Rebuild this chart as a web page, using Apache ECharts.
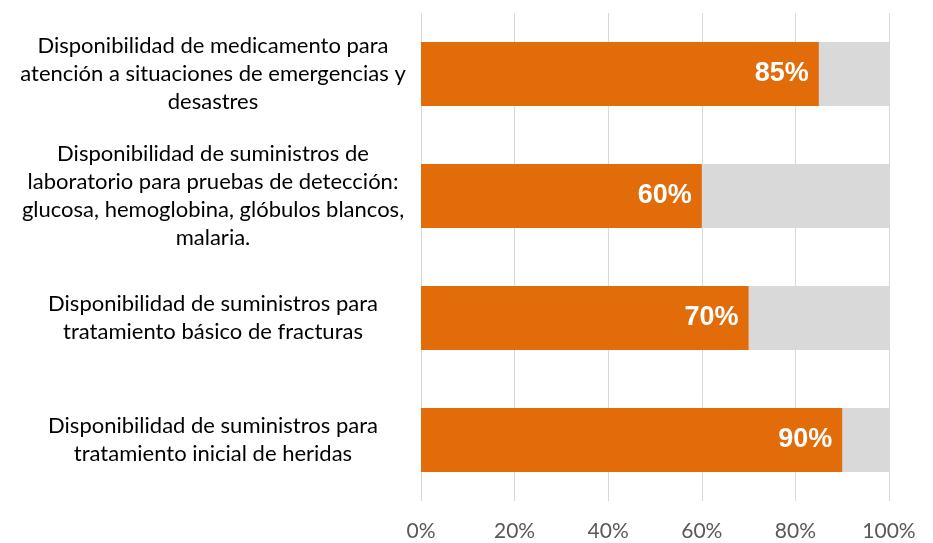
<!DOCTYPE html>
<html>
<head>
<meta charset="utf-8">
<script src="https://cdn.jsdelivr.net/npm/echarts@6/dist/echarts.min.js"></script>
<style>
  html, body { margin: 0; padding: 0; background: #fff; }
  #chart { width: 933px; height: 543px; }
</style>
</head>
<body>
<div id="chart"></div>
<script>
  // categorías (de arriba hacia abajo)
  var categories = [
    'Disponibilidad de medicamento para\natención a situaciones de emergencias y\ndesastres',
    'Disponibilidad de suministros de\nlaboratorio para pruebas de detección:\nglucosa, hemoglobina, glóbulos blancos,\nmalaria.',
    'Disponibilidad de suministros para\ntratamiento básico de fracturas',
    'Disponibilidad de suministros para\ntratamiento inicial de heridas'
  ];
  var values = [85, 60, 70, 90];
  var ticks = [0, 20, 40, 60, 80, 100];

  var chart = echarts.init(document.getElementById('chart'));

  var option = {
    animation: false,
    grid: {
      left: 421,
      right: 44,
      top: 13,
      bottom: 42
    },
    xAxis: {
      type: 'value',
      min: ticks[0],
      max: ticks[ticks.length - 1],
      interval: 20,
      axisLine: { show: false },
      axisTick: { show: false },
      splitLine: {
        lineStyle: { color: '#d9d9d9', width: 1 }
      },
      axisLabel: {
        color: '#595959',
        fontFamily: 'Lato',
        fontSize: 21,
        margin: 20,
        formatter: function (v) { return v + '%'; }
      }
    },
    yAxis: {
      type: 'category',
      inverse: true,
      data: categories,
      axisLine: { show: false },
      axisTick: { show: false },
      axisLabel: {
        color: '#000',
        fontFamily: 'Lato',
        fontSize: 22,
        lineHeight: 28,
        align: 'center',
        margin: 208
      }
    },
    series: [{
      type: 'bar',
      data: values,
      barWidth: 64,
      showBackground: true,
      backgroundStyle: { color: '#d9d9d9' },
      itemStyle: { color: '#e36c0a' },
      label: {
        show: true,
        position: 'insideRight',
        distance: 10,
        color: '#fff',
        fontFamily: 'Liberation Sans, Arial',
        fontWeight: 'bold',
        fontSize: 27,
        formatter: '{c}%'
      }
    }]
  };

  chart.setOption(option);
</script>
</body>
</html>
